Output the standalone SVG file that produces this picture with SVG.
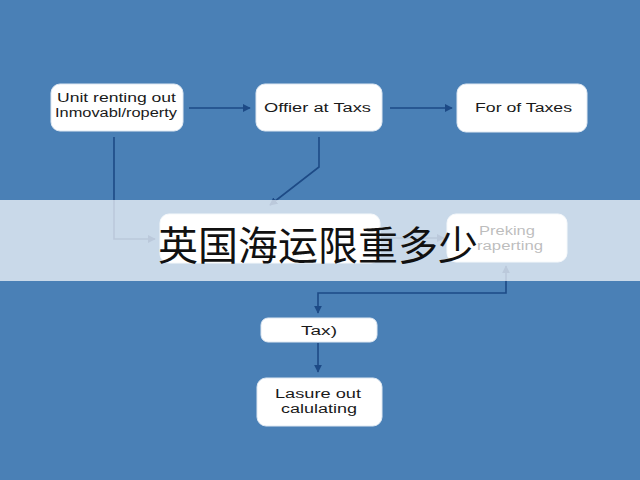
<svg xmlns="http://www.w3.org/2000/svg" width="640" height="480" viewBox="0 0 640 480">
<defs>
<marker id="ah" viewBox="0 0 10 10" refX="9" refY="5" markerWidth="8" markerHeight="8" orient="auto-start-reverse" markerUnits="userSpaceOnUse">
<path d="M0,0 L10,5 L0,10 z" fill="#1d4a86"/>
</marker>
<style>
.box{fill:#ffffff;stroke:#dfe8f2;stroke-width:1}
.t{font-family:"Liberation Sans",Arial,sans-serif;font-size:12.5px;fill:#1a1a1a}
.c{fill:none;stroke:#1d4a86;stroke-width:1.6}
</style>
</defs>
<rect width="640" height="480" fill="#4a80b6"/>
<g id="connectors">
<line class="c" x1="189" y1="108" x2="250" y2="108" marker-end="url(#ah)"/>
<line class="c" x1="390" y1="108" x2="452" y2="108" marker-end="url(#ah)"/>
<polyline class="c" points="114,137 114,239 155,239" marker-end="url(#ah)"/>
<polyline class="c" points="319,137 319,167 270,205" marker-end="url(#ah)"/>
<line class="c" x1="381" y1="238" x2="444" y2="238" marker-end="url(#ah)"/>
<polyline class="c" points="318,313 318,293 506,293 506,266" marker-start="url(#ah)" marker-end="url(#ah)"/>
<line class="c" x1="318" y1="343" x2="318" y2="372" marker-end="url(#ah)"/>
</g>
<g id="n1"><rect class="box" x="51" y="84" width="132" height="47" rx="9"/>
<text class="t" x="57" y="102" textLength="119" lengthAdjust="spacingAndGlyphs">Unit renting out</text>
<text class="t" x="55" y="117" textLength="122" lengthAdjust="spacingAndGlyphs">Inmovabl/roperty</text></g>
<g id="n2"><rect class="box" x="256" y="84" width="126" height="47" rx="9"/>
<text class="t" x="264" y="112" textLength="107" lengthAdjust="spacingAndGlyphs">Offier at Taxs</text></g>
<g id="n3"><rect class="box" x="457" y="84" width="130" height="48" rx="9"/>
<text class="t" x="475" y="112" textLength="97" lengthAdjust="spacingAndGlyphs">For of Taxes</text></g>
<g id="n4"><rect class="box" x="160" y="214" width="220" height="49" rx="9"/></g>
<g id="n5"><rect class="box" x="447" y="214" width="120" height="48" rx="9"/>
<text class="t" x="479" y="235" textLength="56" lengthAdjust="spacingAndGlyphs" style="fill:#222">Preking</text>
<text class="t" x="477" y="250" textLength="66" lengthAdjust="spacingAndGlyphs" style="fill:#222">raperting</text></g>
<g id="n6"><rect class="box" x="261" y="318" width="116" height="24" rx="7"/>
<text class="t" x="301" y="335" textLength="36" lengthAdjust="spacingAndGlyphs">Tax)</text></g>
<g id="n7"><rect class="box" x="257" y="378" width="125" height="48" rx="9"/>
<text class="t" x="275" y="398" textLength="86" lengthAdjust="spacingAndGlyphs">Lasure out</text>
<text class="t" x="281" y="413" textLength="76" lengthAdjust="spacingAndGlyphs">calulating</text></g>
<rect x="0" y="200" width="640" height="81" fill="#ffffff" fill-opacity="0.7"/>
<text x="318" y="260" font-family="'Noto Sans CJK SC','Noto Sans CJK JP',sans-serif" font-size="40" fill="#111" text-anchor="middle">英国海运限重多少</text>
</svg>
